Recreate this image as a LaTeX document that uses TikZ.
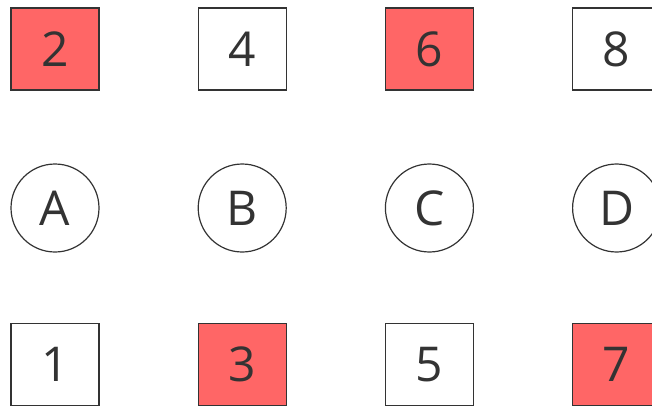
\documentclass[tikz,border=0pt]{standalone}
\usepackage{fontspec}
\setmainfont{Open Sans}
\usepackage{tikz}
\usetikzlibrary{positioning}
\definecolor{cellInk}{HTML}{333333}
\definecolor{cellRed}{HTML}{FF6666}
\tikzset{
  cellBox/.style={
    draw=cellInk,
    fill=white,
    line width=1.2pt,
    minimum width=88pt,
    minimum height=82pt,
    inner sep=0pt,
    text=cellInk,
    font=\fontsize{48}{48}\selectfont
  },
  cellHot/.style={fill=cellRed},
  keyCircle/.style={
    circle,
    draw=cellInk,
    line width=1.2pt,
    minimum size=88pt,
    inner sep=0pt,
    text=cellInk,
    font=\fontsize{48}{48}\selectfont
  }
}
\begin{document}
\begin{tikzpicture}[x=1pt, y=1pt, node distance=98pt]
    \useasboundingbox (0,0) rectangle (652,-407);

    % top row
    \node[cellBox, cellHot] (n2) at (55,-49) {2};
    \node[cellBox, right=of n2] (n4) {4};
    \node[cellBox, cellHot, right=of n4] (n6) {6};
    \node[cellBox, right=of n6] (n8) {8};

    % keys
    \node[keyCircle] (kA) at (55,-208) {A};
    \node[keyCircle, right=of kA] (kB) {B};
    \node[keyCircle, right=of kB] (kC) {C};
    \node[keyCircle, right=of kC] (kD) {D};

    % bottom row
    \node[cellBox] (n1) at (55,-364.5) {1};
    \node[cellBox, cellHot, right=of n1] (n3) {3};
    \node[cellBox, right=of n3] (n5) {5};
    \node[cellBox, cellHot, right=of n5] (n7) {7};
  \end{tikzpicture}
\end{document}
